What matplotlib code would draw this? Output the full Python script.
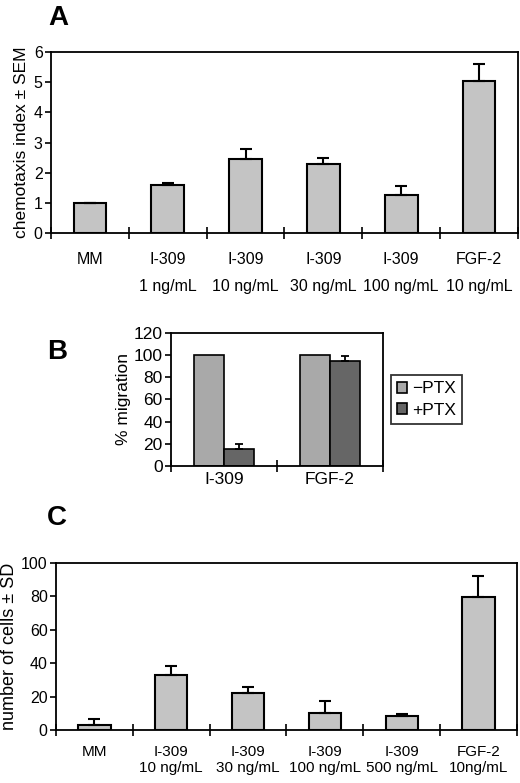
import numpy as np
import matplotlib
matplotlib.use('Agg')
import matplotlib.pyplot as plt

plt.rcParams['font.family'] = ['Liberation Sans', 'DejaVu Sans']

# panel A data
a_labels = ["MM", "I-309\n1 ng/mL", "I-309\n10 ng/mL", "I-309\n30 ng/mL", "I-309\n100 ng/mL", "FGF-2\n10 ng/mL"]
a_vals = [1.0, 1.6, 2.45, 2.3, 1.25, 5.05]
a_err = [0.0, 0.05, 0.35, 0.2, 0.3, 0.55]

# panel B data
b_groups = ["I-309", "FGF-2"]
b_minus = [100, 100]
b_plus = [15, 95]
b_plus_err = [5, 4]

# panel C data
c_labels = ["MM", "I-309\n10 ng/mL", "I-309\n30 ng/mL", "I-309\n100 ng/mL", "I-309\n500 ng/mL", "FGF-2\n10ng/mL"]
c_vals = [3, 33, 22, 10, 8.5, 79.5]
c_err = [3.5, 5.5, 3.5, 7.5, 1.0, 13]

BAR = '#c4c4c4'
LIGHT = '#a9a9a9'
DARK = '#666666'

fig = plt.figure(figsize=(5.2, 7.83), dpi=100)

def style_axes(ax, ncat, fs, pad):
    ax.set_xlim(0, ncat)
    ax.set_xticks(np.arange(ncat + 1))
    ax.set_xticklabels([])
    ax.tick_params(axis='x', which='major', direction='inout', length=8, width=1.2)
    ax.tick_params(axis='x', which='minor', length=0, labelsize=fs, pad=pad)
    ax.tick_params(axis='y', direction='out', length=4, width=1.2, labelsize=fs, pad=2)
    for s in ax.spines.values():
        s.set_linewidth(1.3)

def bar_panel(ax, labels, vals, err, fs, linesp, pad):
    x = np.arange(len(vals)) + 0.5
    ax.bar(x, vals, width=0.42, color=BAR, edgecolor='black', linewidth=1.5, zorder=2)
    ax.errorbar(x, vals, yerr=[np.zeros(len(err)), err], fmt='none', ecolor='black',
                elinewidth=1.5, capsize=4, capthick=1.5, zorder=3)
    style_axes(ax, len(vals), fs, pad)
    ax.set_xticks(x, minor=True)
    ax.set_xticklabels(labels, minor=True)
    for t in ax.get_xticklabels(minor=True):
        t.set_linespacing(linesp)
        t.set_verticalalignment('top')

# A
axA = fig.add_axes([0.098, 0.7024, 0.898, 0.2312])
bar_panel(axA, a_labels, a_vals, a_err, 11.5, 1.95, 14)
axA.set_ylim(0, 6)
axA.set_yticks(range(0, 7))
axA.set_ylabel("chemotaxis index ± SEM", fontsize=12.5, labelpad=3)
fig.text(0.113, 0.994, "A", fontsize=20, fontweight='bold', va='top', ha='center')

# B
axB = fig.add_axes([0.329, 0.4049, 0.4075, 0.1698])
xb = np.arange(len(b_groups)) + 0.5
w = 0.28
axB.bar(xb - w / 2, b_minus, width=w, color=LIGHT, edgecolor='black', linewidth=1.2, label='\u2212PTX', zorder=2)
axB.bar(xb + w / 2, b_plus, width=w, color=DARK, edgecolor='black', linewidth=1.2, label='+PTX', zorder=2)
axB.errorbar(xb + w / 2, b_plus, yerr=[np.zeros(2), b_plus_err], fmt='none', ecolor='black',
             elinewidth=1.3, capsize=3, capthick=1.3, zorder=3)
style_axes(axB, len(b_groups), 12.5, 4)
axB.set_xticks(xb, minor=True)
axB.set_xticklabels(b_groups, minor=True)
axB.set_ylim(0, 120)
axB.set_yticks(range(0, 121, 20))
axB.set_ylabel("% migration", fontsize=12.5, labelpad=2)
leg = axB.legend(loc='center left', bbox_to_anchor=(1.02, 0.5), fontsize=12.5, frameon=True,
                 fancybox=False, edgecolor='black', handlelength=0.6, handleheight=0.6,
                 handletextpad=0.3, borderpad=0.35, labelspacing=0.35, borderaxespad=0.2)
leg.get_frame().set_linewidth(1.3)
fig.text(0.11, 0.5505, "B", fontsize=20, fontweight='bold', va='center', ha='center')

# C
axC = fig.add_axes([0.1077, 0.0677, 0.8863, 0.2133])
bar_panel(axC, c_labels, c_vals, c_err, 11, 1.15, 11)
axC.tick_params(axis='y', labelsize=11.5)
axC.set_ylim(0, 100)
axC.set_yticks(range(0, 101, 20))
axC.set_ylabel("number of cells ± SD", fontsize=13, labelpad=2)
fig.text(0.11, 0.338, "C", fontsize=20, fontweight='bold', va='center', ha='center')

fig.savefig("out.png", dpi=100)
